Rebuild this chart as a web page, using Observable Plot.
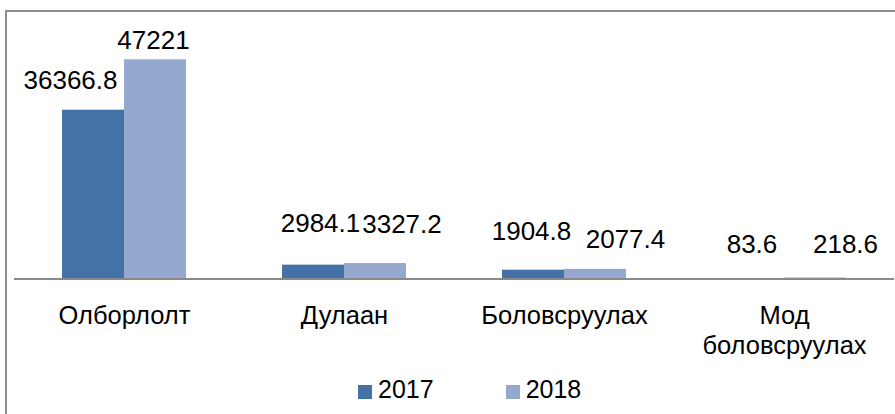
<!DOCTYPE html>
<html>
<head>
<meta charset="utf-8">
<script src="https://cdn.jsdelivr.net/npm/d3@7"></script>
<script src="https://cdn.jsdelivr.net/npm/@observablehq/plot@0.6"></script>
<style>
  html, body { margin: 0; padding: 0; background: #fff; overflow: hidden; }
  body { width: 895px; height: 414px; position: relative; font-family: "Liberation Sans", Arial, sans-serif; }
  #frame { position: absolute; left: 5px; top: 10px; width: 900px; height: 420px;
           border-left: 2px solid #8f8f8f; border-top: 2px solid #8f8f8f; box-sizing: border-box; pointer-events: none; }
  #chart { position: absolute; left: 0; top: 0; }
  #legend { position: absolute; left: 358px; top: 375px; display: flex; gap: 72px; font-size: 25px; color: #000; }
  .item { display: flex; align-items: center; gap: 6px; }
  .sw { width: 14px; height: 14px; display: inline-block; margin-top: 4px; }
</style>
</head>
<body>
<div id="chart"></div>
<div id="frame"></div>
<div id="legend"></div>
<script>
const categories = ["Олборлолт", "Дулаан", "Боловсруулах", "Мод боловсруулах"];
const years = ["2017", "2018"];
const values2017 = [36366.8, 2984.1, 1904.8, 83.6];
const values2018 = [47221, 3327.2, 2077.4, 218.6];
const colors = ["#4572A6", "#95A9D0"];

// label nudges (pixels) relative to the top-centre of each bar, as placed in the original
const labelDx = {"2017": [-23, 7, -2, -1.5], "2018": [-2, 26.5, 30, 30]};
const labelDy = {"2017": [-21, -33, -30, -26], "2018": [-11, -31, -21, -25]};

const rows = [];
categories.forEach((c, i) => {
  rows.push({category: c, year: "2017", value: values2017[i], idx: i});
  rows.push({category: c, year: "2018", value: values2018[i], idx: i});
});

const labelMarks = rows.map(r => Plot.text([r], {
  fx: "category", x: "year", y: "value",
  text: d => String(d.value),
  fontSize: 26, lineAnchor: "bottom", fill: "#000",
  dx: labelDx[r.year][r.idx], dy: labelDy[r.year][r.idx]
}));

const plot = Plot.plot({
  width: 895, height: 370,
  marginLeft: 12, marginRight: 0, marginTop: 0, marginBottom: 91.5,
  style: {fontFamily: "'Liberation Sans', Arial, sans-serif", fontSize: "25px", background: "transparent", color: "#000"},
  fx: {domain: categories, padding: 0, label: null, axis: null},
  x: {domain: years, paddingInner: 0, paddingOuter: 0.752, axis: null},
  y: {domain: [0, 60000], axis: null},
  color: {domain: years, range: colors},
  marks: [
    Plot.barY(rows, {fx: "category", x: "year", y: "value", fill: "year", inset: 0}),
    Plot.ruleY([0], {stroke: "#8a8a8a", strokeWidth: 2}),
    Plot.axisFx({anchor: "bottom", tickSize: 0, tickPadding: 23.5, fontSize: 25.5, lineHeight: 1.17, label: null,
                 tickFormat: d => d.replace(" ", "\n")}),
    ...labelMarks
  ]
});
document.getElementById("chart").appendChild(plot);

const legend = document.getElementById("legend");
years.forEach((y, i) => {
  const item = document.createElement("div");
  item.className = "item";
  const sw = document.createElement("span");
  sw.className = "sw";
  sw.style.background = colors[i];
  const t = document.createElement("span");
  t.textContent = y;
  item.appendChild(sw); item.appendChild(t);
  legend.appendChild(item);
});
</script>
</body>
</html>
